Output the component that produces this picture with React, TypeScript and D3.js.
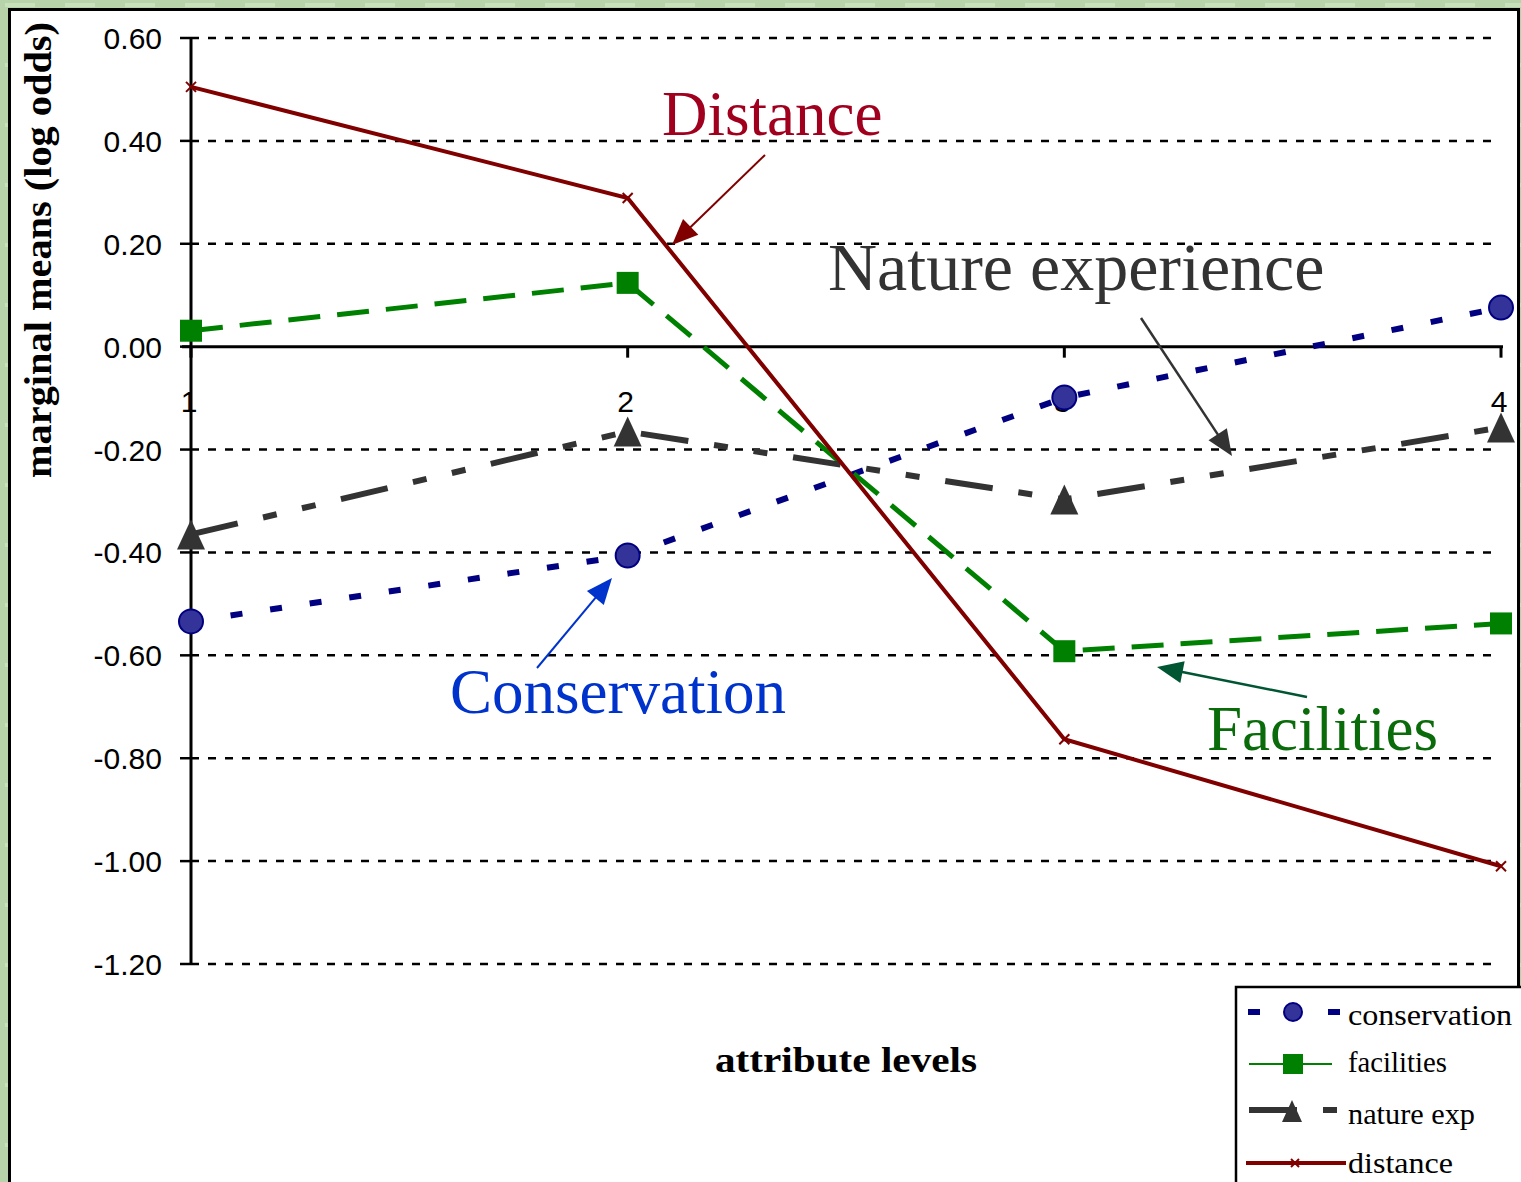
import React, { useEffect } from "react";
import * as d3 from "d3";

const levels = [1, 2, 3, 4];
const levelLabels = ["1", "2", "3", "4"];
const yTicks = [0.6, 0.4, 0.2, 0.0, -0.2, -0.4, -0.6, -0.8, -1.0, -1.2];

const conservation = [-0.534, -0.406, -0.099, 0.076];
const facilities = [0.031, 0.124, -0.592, -0.538];
const natureExp = [-0.365, -0.165, -0.297, -0.157];
const distance = [0.505, 0.289, -0.763, -1.01];

const W = 1521;
const H = 1182;

const x = d3.scaleLinear().domain([1, 4]).range([191, 1501]);
const y = d3.scaleLinear().domain([-1.2, 0.6]).range([964, 38]);

const line = d3
  .line<number>()
  .x((_, i) => x(levels[i]))
  .y((v) => y(v));

const SERIF = "'Liberation Serif', 'DejaVu Serif', serif";
const SANS = "'Liberation Sans', Arial, sans-serif";

function Arrow({ x1, y1, x2, y2, color, w = 2, head = 26, hw = 11 }: any) {
  const dx = x2 - x1;
  const dy = y2 - y1;
  const L = Math.hypot(dx, dy);
  const ux = dx / L;
  const uy = dy / L;
  const bx = x2 - ux * head;
  const by = y2 - uy * head;
  const px = -uy * hw;
  const py = ux * hw;
  return (
    <g>
      <line x1={x1} y1={y1} x2={bx + ux * 4} y2={by + uy * 4} stroke={color} strokeWidth={w} />
      <polygon
        points={`${x2},${y2} ${bx + px},${by + py} ${bx - px},${by - py}`}
        fill={color}
      />
    </g>
  );
}

function Circle({ cx, cy, r = 12 }: any) {
  return <circle cx={cx} cy={cy} r={r} fill="#333399" stroke="#000080" strokeWidth={2} />;
}
function Square({ cx, cy, s = 22 }: any) {
  return <rect x={cx - s / 2} y={cy - s / 2} width={s} height={s} fill="#008000" />;
}
function Tri({ cx, cy, w = 28, h = 30 }: any) {
  return (
    <polygon
      points={`${cx},${cy - h / 2} ${cx + w / 2},${cy + h / 2} ${cx - w / 2},${cy + h / 2}`}
      fill="#333333"
    />
  );
}
function XMark({ cx, cy, s = 5 }: any) {
  return (
    <g stroke="#800000" strokeWidth={2}>
      <line x1={cx - s} y1={cy - s} x2={cx + s} y2={cy + s} />
      <line x1={cx - s} y1={cy + s} x2={cx + s} y2={cy - s} />
    </g>
  );
}

export default function App() {
  useEffect(() => {
    document.body.style.margin = "0";
  }, []);

  const consStyle = { stroke: "#000080", strokeWidth: 6, strokeDasharray: "12 28", fill: "none" };
  const facStyle = { stroke: "#008000", strokeWidth: 5, strokeDasharray: "32 17", fill: "none" };
  const natStyle = {
    stroke: "#333333",
    strokeWidth: 6,
    strokeDasharray: "48 26 14 26 14 26",
    fill: "none",
  };
  const distStyle = { stroke: "#800000", strokeWidth: 4, fill: "none" };

  return (
    <svg width={W} height={H} style={{ display: "block" }}>
      <defs>
        <pattern id="bgtex" width="60" height="60" patternUnits="userSpaceOnUse">
          <rect width="60" height="60" fill="#b7d3a9" />
          <rect x="5" y="3" width="30" height="4" fill="#c9e0bd" />
          <rect x="32" y="30" width="22" height="3" fill="#a6c79a" />
          <rect x="12" y="44" width="3" height="14" fill="#c4dcb7" />
        </pattern>
      </defs>
      <rect width={W} height={H} fill="url(#bgtex)" />
      <rect x={9.5} y={9.5} width={1509} height={1200} fill="#ffffff" stroke="#000" strokeWidth={3} />

      {/* gridlines */}
      {yTicks.map((t) =>
        Math.abs(t) < 1e-9 ? null : (
          <line
            key={"g" + t}
            x1={191}
            x2={1500}
            y1={y(t)}
            y2={y(t)}
            stroke="#000"
            strokeWidth={2.5}
            strokeDasharray="8 9"
          />
        )
      )}
      {/* y ticks */}
      {yTicks.map((t) => (
        <g key={"t" + t}>
          <line x1={180} x2={191} y1={y(t)} y2={y(t)} stroke="#000" strokeWidth={2.5} />
          <text
            x={162}
            y={y(t) + 11}
            textAnchor="end"
            fontFamily={SANS}
            fontSize={30}
            fill="#000"
          >
            {t.toFixed(2)}
          </text>
        </g>
      ))}
      {/* axes */}
      <line x1={191} x2={191} y1={38} y2={964} stroke="#000" strokeWidth={3} />
      <line x1={182} x2={1503} y1={y(0)} y2={y(0)} stroke="#000" strokeWidth={3} />
      {levels.map((l, i) => (
        <g key={"x" + l}>
          <line x1={x(l)} x2={x(l)} y1={y(0)} y2={y(0) + 11} stroke="#000" strokeWidth={3} />
          <text x={x(l) - 2} y={y(0) + 65} textAnchor="middle" fontFamily={SANS} fontSize={30} fill="#000">
            {levelLabels[i]}
          </text>
        </g>
      ))}

      {/* series */}
      <path d={line(conservation) || ""} style={consStyle} />
      <path d={line(facilities) || ""} style={facStyle} />
      <path d={line(natureExp) || ""} style={natStyle} />
      <path d={line(distance) || ""} style={distStyle} />

      {conservation.map((v, i) => (
        <Circle key={"c" + i} cx={x(levels[i])} cy={y(v)} />
      ))}
      {facilities.map((v, i) => (
        <Square key={"f" + i} cx={x(levels[i])} cy={y(v)} />
      ))}
      {natureExp.map((v, i) => (
        <Tri key={"n" + i} cx={x(levels[i])} cy={y(v)} />
      ))}
      {distance.map((v, i) => (
        <XMark key={"d" + i} cx={x(levels[i])} cy={y(v)} />
      ))}

      {/* annotations */}
      <text x={662} y={135} fontFamily={SERIF} fontSize={63} fill="#a0001e">
        Distance
      </text>
      <Arrow x1={765} y1={155} x2={672} y2={245} color="#800000" w={2} />
      <text x={828} y={290} fontFamily={SERIF} fontSize={68} fill="#333333">
        Nature experience
      </text>
      <Arrow x1={1141} y1={318} x2={1232} y2={456} color="#333333" w={2.5} />
      <text x={450} y={713} fontFamily={SERIF} fontSize={63} fill="#0033cc">
        Conservation
      </text>
      <Arrow x1={537} y1={668} x2={612} y2={578} color="#0033cc" w={2} />
      <text x={1207} y={750} fontFamily={SERIF} fontSize={63} fill="#0a6b0a">
        Facilities
      </text>
      <Arrow x1={1307} y1={697} x2={1157} y2={667} color="#005533" w={2.5} />

      {/* axis titles */}
      <text
        transform="translate(51,250) rotate(-90)"
        textAnchor="middle"
        fontFamily={SERIF}
        fontWeight="bold"
        fontSize={37}
        textLength={456}
        lengthAdjust="spacingAndGlyphs"
        fill="#000"
      >
        marginal means (log odds)
      </text>
      <text
        x={846}
        y={1072}
        textAnchor="middle"
        fontFamily={SERIF}
        fontWeight="bold"
        fontSize={36}
        textLength={262}
        lengthAdjust="spacingAndGlyphs"
        fill="#000"
      >
        attribute levels
      </text>

      {/* legend */}
      <rect x={1236} y={987} width={300} height={260} fill="#fff" stroke="#000" strokeWidth={2.5} />
      <line x1={1248} x2={1342} y1={1012} y2={1012} style={consStyle} strokeWidth={5} />
      <Circle cx={1293} cy={1012} r={9} />
      <text x={1348} y={1025} fontFamily={SERIF} fontSize={30} textLength={164} lengthAdjust="spacingAndGlyphs">
        conservation
      </text>
      <line x1={1249} x2={1332} y1={1064} y2={1064} stroke="#008000" strokeWidth={2} />
      <Square cx={1293} cy={1064} s={20} />
      <text x={1348} y={1072} fontFamily={SERIF} fontSize={30} textLength={99} lengthAdjust="spacingAndGlyphs">
        facilities
      </text>
      <line x1={1249} x2={1338} y1={1110} y2={1110} style={natStyle} />
      <Tri cx={1292} cy={1111} w={20} h={22} />
      <text x={1348} y={1124} fontFamily={SERIF} fontSize={30} textLength={127} lengthAdjust="spacingAndGlyphs">
        nature exp
      </text>
      <line x1={1246} x2={1346} y1={1163} y2={1163} stroke="#800000" strokeWidth={4} />
      <XMark cx={1295} cy={1163} s={4} />
      <text x={1348} y={1173} fontFamily={SERIF} fontSize={30} textLength={105} lengthAdjust="spacingAndGlyphs">
        distance
      </text>
    </svg>
  );
}
